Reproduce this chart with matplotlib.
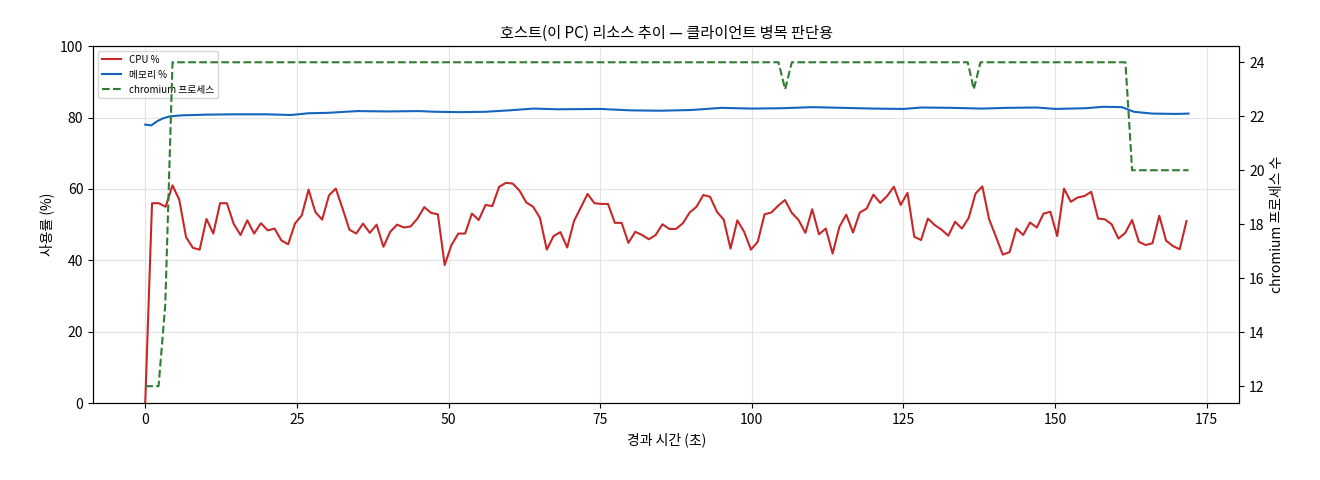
import numpy as np
import matplotlib
matplotlib.use('Agg')
import matplotlib.pyplot as plt

plt.rcParams['font.family'] = ['Noto Sans CJK KR', 'DejaVu Sans']
plt.rcParams['axes.unicode_minus'] = False

# CPU %, one sample every ~1.12 s
cpu = [0, 56, 56, 55, 61, 57, 46.5, 43.5, 43, 51.6, 47.5, 56, 56, 50.2, 47.1, 51.2, 47.5, 50.4, 48.4, 48.9,
       45.6, 44.5, 50.3, 52.6, 59.8, 53.5, 51.4, 58.2, 60.1, 54.5, 48.6, 47.5, 50.3, 47.7, 50, 43.8, 48, 50,
       49.2, 49.5, 51.7, 54.9, 53.3, 52.9, 38.7, 44.3, 47.5, 47.5, 53.1, 51.3, 55.5, 55.2, 60.6,
       61.7, 61.5, 59.5, 56.2, 55, 51.9, 43, 46.8, 47.9, 43.6, 51, 54.8, 58.6, 56, 55.8, 55.8, 50.5, 50.5,
       44.9, 48, 47.1, 45.9, 47.1, 50.1, 48.8, 48.8, 50.4, 53.4, 55, 58.3, 57.8, 53.6, 51.4, 43.3, 51.2, 48,
       43, 45.2, 52.9, 53.4, 55.3, 56.9, 53.3, 51.3, 47.7, 54.3, 47.3, 48.9, 41.9, 49.4, 52.8,
       47.8, 53.4, 54.5, 58.4, 56.1, 58, 60.6, 55.5, 58.9, 46.6, 45.7, 51.7, 49.9, 48.6, 46.9, 50.8, 48.9,
       51.9, 58.7, 60.7, 51.5, 46.6, 41.6, 42.3, 48.9, 47.1, 50.6, 49.2, 53.1, 53.6, 46.8, 60.1, 56.4, 57.6,
       58, 59.2, 51.7, 51.5, 50.1, 46.1, 47.7, 51.3, 45.2, 44.3, 44.8, 52.5, 45.5, 44, 43.1, 51]
t = np.arange(len(cpu)) * 1.122

mem_t = [0, 1, 2, 3, 4, 6, 10, 15, 20, 24, 27, 30, 35, 40, 45, 48, 52, 56, 60, 64, 68, 75, 80, 85, 90,
         95, 100, 105, 110, 115, 120, 125, 128, 133, 138, 142, 147, 150, 155, 158, 161, 163, 166, 170, 172]
mem = [78, 77.8, 79, 79.8, 80.3, 80.6, 80.8, 80.9, 80.9, 80.7, 81.2, 81.3, 81.8, 81.7, 81.8, 81.6, 81.5,
       81.6, 82, 82.5, 82.3, 82.4, 82, 81.9, 82.1, 82.7, 82.5, 82.6, 82.9, 82.7, 82.5, 82.4, 82.8, 82.7,
       82.5, 82.7, 82.8, 82.4, 82.6, 83, 82.9, 81.6, 81.1, 81.0, 81.1]

proc_t = [0, 2.2, 3.3, 4.5, 104.4, 105.5, 106.6, 135.6, 136.6, 137.7, 161.6, 162.7, 172]
proc = [12, 12, 15, 24, 24, 23, 24, 24, 23, 24, 24, 20, 20]

fig = plt.figure(figsize=(13.2, 4.8), dpi=100)
ax = fig.add_axes([0.0705, 0.160, 0.8685, 0.744])
l1, = ax.plot(t, cpu, color='#c62828', lw=1.5, label='CPU %')
l2, = ax.plot(mem_t, mem, color='#1565c0', lw=1.5, label='메모리 %')
ax.set_ylim(0, 100)
ax.set_xlim(-8.6, 180.4)
ax.set_xlabel('경과 시간 (초)')
ax.set_ylabel('사용률 (%)')
ax.grid(True, color='#e3e3e3', lw=0.8)
ax.set_title('호스트(이 PC) 리소스 추이 — 클라이언트 병목 판단용', fontsize=11)

ax2 = ax.twinx()
l3, = ax2.plot(proc_t, proc, color='#2e7d32', lw=1.5, ls='--', label='chromium 프로세스')
ax2.set_ylim(11.37, 24.6)
ax2.set_ylabel('chromium 프로세스 수')

ax.legend(handles=[l1, l2, l3], loc='upper left', fontsize=7, framealpha=0.8)
fig.savefig('out.png', dpi=100)
